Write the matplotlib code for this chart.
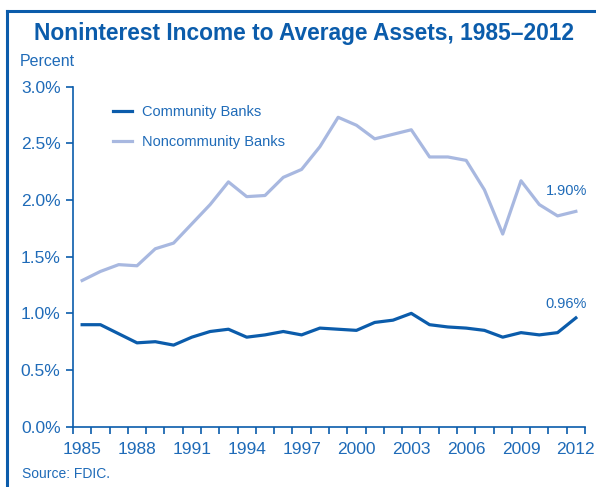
import matplotlib
matplotlib.use("Agg")
import matplotlib.pyplot as plt
from matplotlib.lines import Line2D

plt.rcParams['font.family'] = ['Liberation Sans Narrow', 'Liberation Sans', 'DejaVu Sans']

# Data (percent of average assets)
years = list(range(1985, 2013))
community = [0.90, 0.90, 0.82, 0.74, 0.75, 0.72, 0.79, 0.84, 0.86, 0.79,
             0.81, 0.84, 0.81, 0.87, 0.86, 0.85, 0.92, 0.94, 1.00, 0.90,
             0.88, 0.87, 0.85, 0.79, 0.83, 0.81, 0.83, 0.96]
noncommunity = [1.29, 1.37, 1.43, 1.42, 1.57, 1.62, 1.79, 1.96, 2.16, 2.03,
                2.04, 2.20, 2.27, 2.47, 2.73, 2.66, 2.54, 2.58, 2.62, 2.38,
                2.38, 2.35, 2.09, 1.70, 2.17, 1.96, 1.86, 1.90]
tick_years = [1985, 1988, 1991, 1994, 1997, 2000, 2003, 2006, 2009, 2012]

dark = '#0b5cab'
light = '#a8b8e0'
text_c = '#1f6bb8'

fig = plt.figure(figsize=(5.96, 4.87), dpi=100)

# outer frame
fig.add_artist(Line2D([7/596, 7/596], [0, 1 - 11/487], transform=fig.transFigure,
                      color=dark, lw=2.2))
fig.add_artist(Line2D([7/596, 1], [1 - 11/487, 1 - 11/487], transform=fig.transFigure,
                      color=dark, lw=2.2))

fig.text(304/596, 1 - 33/487, 'Noninterest Income to Average Assets, 1985\u20132012',
         ha='center', va='center', fontsize=16.4, fontweight='bold', color=dark)
fig.text(20/596, 1 - 62/487, 'Percent', ha='left', va='center', fontsize=11.5, color=text_c)
fig.text(22/596, 1 - 474/487, 'Source: FDIC.', ha='left', va='center', fontsize=10, color=text_c)

ax = fig.add_axes([73/596, 1 - 426.7/487, 512/596, 340/487])
x = list(range(len(years)))
ax.plot(x, noncommunity, color=light, lw=2.3, label='Noncommunity Banks')
ax.plot(x, community, color=dark, lw=2.3, label='Community Banks')

ax.set_xlim(-0.5, len(years) - 0.5)
ax.set_ylim(0, 3.0)

ax.set_yticks([0, 0.5, 1.0, 1.5, 2.0, 2.5, 3.0])
ax.set_yticklabels([f'{v:.1f}%' for v in [0, 0.5, 1.0, 1.5, 2.0, 2.5, 3.0]])
ax.set_xticks([i - 0.5 for i in range(len(years) + 1)])
ax.set_xticklabels([])
ax.set_xticks([years.index(y) for y in tick_years], minor=True)
ax.set_xticklabels([str(y) for y in tick_years], minor=True)

ax.tick_params(axis='x', which='major', length=5, width=1.2, color=dark, direction='out')
ax.tick_params(axis='x', which='minor', length=0, pad=11, labelsize=12.5, labelcolor=text_c)
ax.tick_params(axis='y', length=5, width=1.2, color=dark, labelsize=12.5, labelcolor=text_c, pad=4)

for s in ['top', 'right']:
    ax.spines[s].set_visible(False)
for s in ['left', 'bottom']:
    ax.spines[s].set_color(dark)
    ax.spines[s].set_linewidth(1.2)

ax.annotate('1.90%', (x[-1], noncommunity[-1]), xytext=(-7, 15), textcoords='offset points',
            ha='center', va='center', fontsize=10.5, color=text_c)
ax.annotate('0.96%', (x[-1], community[-1]), xytext=(-7, 10), textcoords='offset points',
            ha='center', va='center', fontsize=10.5, color=text_c)

handles = [Line2D([], [], color=dark, lw=2.3), Line2D([], [], color=light, lw=2.3)]
ax.legend(handles, ['Community Banks', 'Noncommunity Banks'], loc='upper left',
          bbox_to_anchor=(0.052, 0.985), frameon=False, fontsize=10.5, labelcolor=text_c,
          handlelength=1.3, handletextpad=0.7, labelspacing=1.1)

fig.savefig('out.png', dpi=100)
